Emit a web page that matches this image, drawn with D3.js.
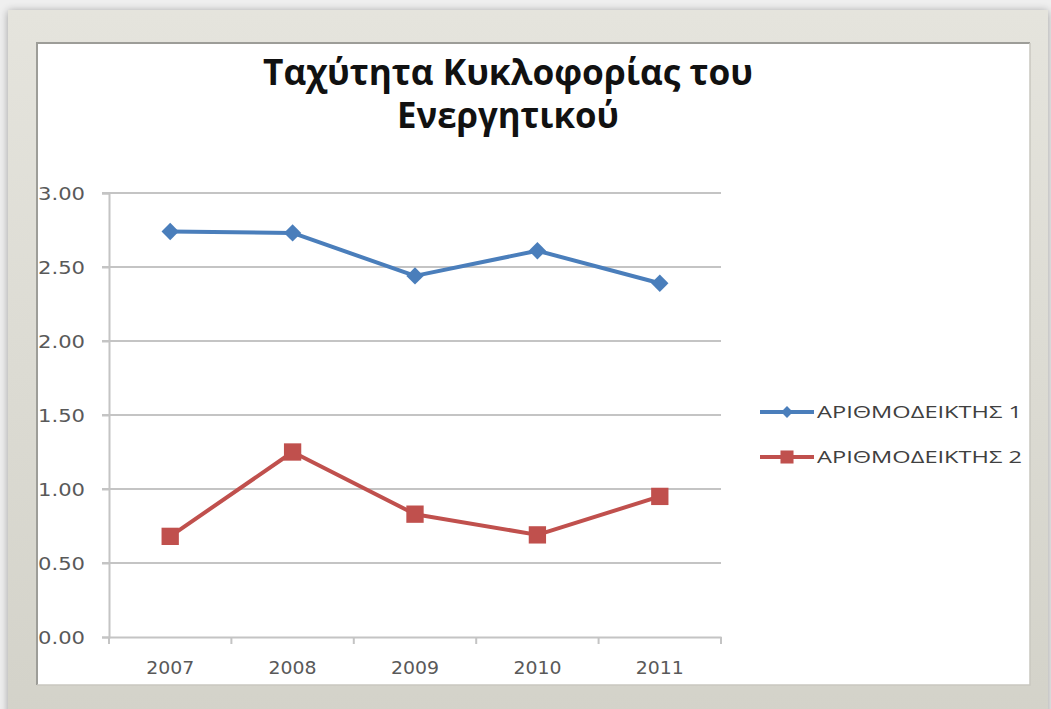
<!DOCTYPE html>
<html>
<head>
<meta charset="utf-8">
<script src="https://cdn.jsdelivr.net/npm/d3@7"></script>
<style>
  html, body { margin: 0; padding: 0; background: #efefef; }
  svg { display: block; }
</style>
</head>
<body>
<svg id="chart" width="1051" height="709"></svg>
<script>
// Chart data
const years = ["2007", "2008", "2009", "2010", "2011"];
const index1 = [2.74, 2.73, 2.44, 2.61, 2.39];
const index2 = [0.68, 1.25, 0.83, 0.69, 0.95];
const seriesNames = ["ΑΡΙΘΜΟΔΕΙΚΤΗΣ 1", "ΑΡΙΘΜΟΔΕΙΚΤΗΣ 2"];
const yTicks = [0, 0.5, 1, 1.5, 2, 2.5, 3];
const titleLines = ["Ταχύτητα Κυκλοφορίας του", "Ενεργητικού"];

const blue = "#4a7ebb";
const red = "#c0504d";

const svg = d3.select("#chart");
const defs = svg.append("defs");

// frame gradient and soft shadow
const grad = defs.append("linearGradient").attr("id", "frameGrad")
  .attr("x1", 0).attr("y1", 0).attr("x2", 0).attr("y2", 1);
grad.append("stop").attr("offset", "0%").attr("stop-color", "#e5e4dd");
grad.append("stop").attr("offset", "100%").attr("stop-color", "#d3d2c9");

const shadow = defs.append("filter").attr("id", "shadow")
  .attr("x", "-5%").attr("y", "-5%").attr("width", "110%").attr("height", "110%");
shadow.append("feGaussianBlur").attr("in", "SourceAlpha").attr("stdDeviation", 4).attr("result", "b");
shadow.append("feOffset").attr("in", "b").attr("dx", 0).attr("dy", 1).attr("result", "o");
shadow.append("feComponentTransfer").attr("in", "o").attr("result", "s")
  .append("feFuncA").attr("type", "linear").attr("slope", 0.35);
const merge = shadow.append("feMerge");
merge.append("feMergeNode").attr("in", "s");
merge.append("feMergeNode").attr("in", "SourceGraphic");

defs.append("clipPath").attr("id", "panelClip")
  .append("rect").attr("x", 37).attr("y", 43).attr("width", 993).attr("height", 642);

// picture frame
svg.append("rect").attr("x", 8).attr("y", 10).attr("width", 1040).attr("height", 720)
  .attr("fill", "url(#frameGrad)").attr("filter", "url(#shadow)");
svg.append("rect").attr("x", 37).attr("y", 43).attr("width", 993).attr("height", 642)
  .attr("fill", "#ffffff");
// inset edge of the panel
svg.append("path").attr("d", "M37,685 V43 H1030").attr("fill", "none")
  .attr("stroke", "#9d9d98").attr("stroke-width", 2);
svg.append("path").attr("d", "M37,685 H1030 V43").attr("fill", "none")
  .attr("stroke", "#c9c8c0").attr("stroke-width", 1.5);

const panel = svg.append("g").attr("clip-path", "url(#panelClip)");

// title
const title = panel.append("g").attr("font-family", "'Open Sans', sans-serif")
  .attr("font-weight", 700).attr("font-size", 35).attr("fill", "#111");
const titleWidths = [490, 222];
const titleY = [85, 128];
titleLines.forEach((t, i) => {
  title.append("text").attr("x", 508).attr("y", titleY[i])
    .attr("text-anchor", "middle")
    .attr("textLength", titleWidths[i]).attr("lengthAdjust", "spacingAndGlyphs")
    .text(t);
});

// scales
const plot = { left: 109, right: 721, top: 193, bottom: 637 };
const x = d3.scaleBand().domain(years).range([plot.left, plot.right]);
const y = d3.scaleLinear().domain([0, 3]).range([plot.bottom, plot.top]);

// gridlines
panel.append("g").selectAll("line").data(yTicks.slice(1)).join("line")
  .attr("x1", plot.left - 7).attr("x2", plot.right)
  .attr("y1", d => y(d)).attr("y2", d => y(d))
  .attr("stroke", "#c4c4c4").attr("stroke-width", 2);

// y axis
const yAxis = panel.append("g").attr("transform", `translate(${plot.left},0)`)
  .call(d3.axisLeft(y).tickValues(yTicks).tickFormat(d3.format(".2f"))
    .tickSize(7).tickPadding(17));
yAxis.select(".domain").attr("stroke", "#c4c4c4").attr("stroke-width", 2);
yAxis.selectAll(".tick line").attr("stroke", "#c4c4c4").attr("stroke-width", 2);
yAxis.selectAll("text")
  .attr("font-family", "'DejaVu Sans', sans-serif").attr("font-size", 17)
  .attr("fill", "#595959").attr("dy", "0.36em")
  .attr("textLength", 47).attr("lengthAdjust", "spacingAndGlyphs");

// x axis
const xAxis = panel.append("g").attr("transform", `translate(0,${plot.bottom})`)
  .call(d3.axisBottom(x).tickSize(0).tickPadding(25));
xAxis.select(".domain").attr("stroke", "#c4c4c4").attr("stroke-width", 2);
xAxis.selectAll("text")
  .attr("font-family", "'DejaVu Sans', sans-serif").attr("font-size", 17)
  .attr("fill", "#595959")
  .attr("textLength", 48).attr("lengthAdjust", "spacingAndGlyphs");
// category boundary ticks
const bounds = years.map(d => x(d)).concat([x(years[years.length - 1]) + x.bandwidth()]);
xAxis.append("g").selectAll("line").data(bounds).join("line")
  .attr("x1", d => d).attr("x2", d => d).attr("y1", 0).attr("y2", 7)
  .attr("stroke", "#c4c4c4").attr("stroke-width", 2);

const cx = d => x(d) + x.bandwidth() / 2;
const line = d3.line().x(d => cx(d.year)).y(d => y(d.value));

// markers: diamonds are squares turned 45 degrees
const series = [
  { name: seriesNames[0], values: index1, color: blue, rotate: 45, size: 150, legendSize: 70 },
  { name: seriesNames[1], values: index2, color: red, rotate: 0, size: 300, legendSize: 170 }
];

series.forEach(s => {
  const pts = years.map((yr, i) => ({ year: yr, value: s.values[i] }));
  panel.append("path").datum(pts).attr("d", line)
    .attr("fill", "none").attr("stroke", s.color).attr("stroke-width", 4)
    .attr("stroke-linejoin", "round");
  panel.append("g").selectAll("path").data(pts).join("path")
    .attr("transform", d => `translate(${cx(d.year)},${y(d.value)}) rotate(${s.rotate})`)
    .attr("d", d3.symbol().type(d3.symbolSquare).size(s.size))
    .attr("fill", s.color);
});

// legend
const legendY = [412, 457];
series.forEach((s, i) => {
  const g = panel.append("g").attr("transform", `translate(760,${legendY[i]})`);
  g.append("line").attr("x1", 0).attr("x2", 54).attr("y1", 0).attr("y2", 0)
    .attr("stroke", s.color).attr("stroke-width", 4);
  g.append("path").attr("transform", `translate(27,0) rotate(${s.rotate})`)
    .attr("d", d3.symbol().type(d3.symbolSquare).size(s.legendSize))
    .attr("fill", s.color);
  g.append("text").attr("x", 57).attr("y", 0).attr("dy", "0.36em")
    .attr("font-family", "'Open Sans', sans-serif").attr("font-size", 17)
    .attr("fill", "#404040")
    .attr("textLength", 205).attr("lengthAdjust", "spacingAndGlyphs")
    .text(s.name);
});
</script>
</body>
</html>
